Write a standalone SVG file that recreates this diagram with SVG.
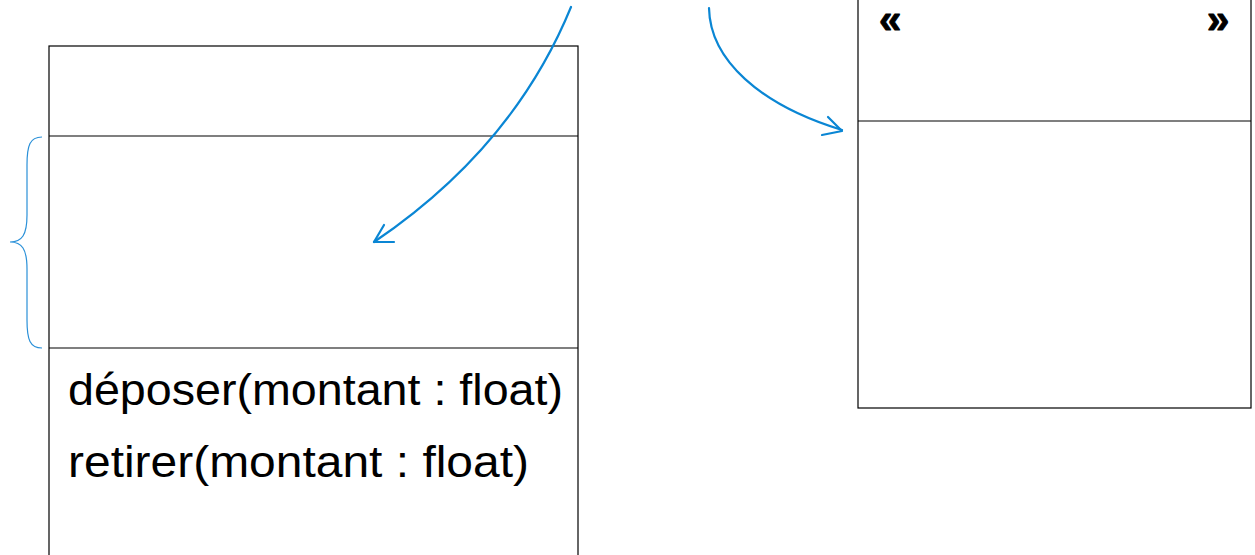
<svg xmlns="http://www.w3.org/2000/svg" width="1255" height="555" viewBox="0 0 1255 555">
<style>
.box{fill:none;stroke:#000;stroke-width:1.2}
.sep{stroke:#000;stroke-width:1.2}
.txt{font-family:"Liberation Sans",Arial,sans-serif;font-size:45px;fill:#000}
.chev{font-family:"Liberation Sans",Arial,sans-serif;font-size:40px;font-weight:bold;fill:#000;stroke:#000;stroke-width:1}
.conn{fill:none;stroke:#0a86d4;stroke-width:2.2;stroke-linecap:round;stroke-linejoin:round}
.brace{fill:none;stroke:#2a90d8;stroke-width:1.2}
</style>
<g id="class-left">
<rect class="box" x="49" y="46" width="529" height="520"/>
<line class="sep" x1="49" y1="136" x2="578" y2="136"/>
<line class="sep" x1="49" y1="348" x2="578" y2="348"/>
<text class="txt" x="68" y="405" textLength="495" lengthAdjust="spacingAndGlyphs">déposer(montant : float)</text>
<text class="txt" x="68" y="477" textLength="461" lengthAdjust="spacingAndGlyphs">retirer(montant : float)</text>
</g>
<g id="class-right">
<rect class="box" x="858" y="-5" width="393" height="413"/>
<line class="sep" x1="858" y1="121" x2="1251" y2="121"/>
<text class="chev" x="879" y="33">«</text>
<text class="chev" x="1207" y="33">»</text>
</g>
<g id="brace">
<path class="brace" d="M42,137 C30,137 27,145 27,165 L27,215 C27,235 22,242 10,242 C22,242 27,249 27,269 L27,320 C27,340 30,348 42,348"/>
</g>
<g id="connectors">
<path class="conn" d="M571,7 Q513.5,147.5 374,242"/>
<path class="conn" d="M384,225 L374,242 L394,242"/>
<path class="conn" d="M709,8 C710,60 760,105 842,130"/>
<path class="conn" d="M828,117 L842,131 L822,135"/>
</g>
</svg>
